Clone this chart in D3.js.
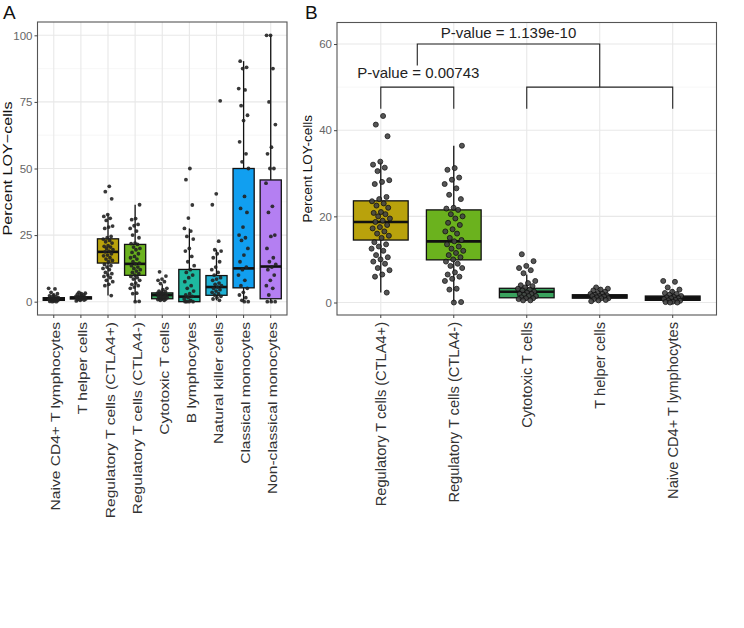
<!DOCTYPE html>
<html><head><meta charset="utf-8">
<script src="https://cdn.jsdelivr.net/npm/d3@7"></script>
<style>body{margin:0;background:#fff}svg{display:block;font-family:"Liberation Sans",Arial,sans-serif}</style>
</head><body><svg id="c" width="744" height="628"></svg>
<script>
// ---------- DATA ----------
const catsA = ["Naive CD4+ T lymphocytes","T helper cells","Regulatory T cells (CTLA4+)","Regulatory T cells (CTLA4-)","Cytotoxic T cells","B lymphocytes","Natural killer cells","Classical monocytes","Non-classical monocytes"];
const catsB = ["Regulatory T cells (CTLA4+)","Regulatory T cells (CTLA4-)","Cytotoxic T cells","T helper cells","Naive CD4+ T lymphocytes"];
const catColors = ["#1a1a1a","#1a1a1a","#b9a20c","#6bb21e","#3aa35e","#1db9a0","#1fb0d4","#119ff0","#b47ff2"];

const naiveVals = [5,4.8,3.5,3,2.5,2.2,2,1.8,1.5,1.3,1.2,1,1,0.8,0.6,0.5,0.4,0.2,0.1,0,0];
const helperVals = [3.5,3.2,3,2.8,2.5,2.2,2,2,1.8,1.7,1.5,1.5,1.4,1.2,1,1,0.8,0.6,0.5,0.3];
const tregPosVals = [43.3,41.3,38.6,32.7,32,31.3,30.5,28.4,28,27.5,24.5,24,23.5,23,22.5,22,21,20.8,20.5,20,19.5,19,18.7,18,17.5,17.2,16.5,16,15.5,15,14,13.5,13,12.5,12,11,10.5,10,9.5,9,8,7.5,6.5,6,2.3];
const tregNegVals = [36.4,31.2,30.8,29,28.5,27.5,26.5,25,24,22,21.8,21.5,20.5,20,19.5,18.5,18,17,16.5,16,15,14.5,14.2,13.5,13,12.5,12,11.5,11,10.5,10,9.5,9,8.5,8,7,6.5,6,5.5,5,3.2,3,0.1,0];
const cytoVals = [11.2,9.6,8.5,8,7.5,6.8,5,4.5,4,3.8,3.5,3.2,3,2.8,2.5,2.3,2,2,1.8,1.5,1.5,1.2,1,1,0.8,0.5,0.5];
const bLymphVals = [50,45.8,36.3,31.4,27.5,26.5,24.5,23.5,20,19,17,15,13.5,12,11,10,9,7.5,6,5,4,3,2.5,2,1.5,1,0.5,0,0,0,0];
const nkVals = [75.4,40.5,36.4,22.7,19.5,19,18,16.5,15,13,12,11,10,9,8.5,8,7,6.5,6,5.5,5,4.5,4,3.5,3,2.5,2,1.5,1,0.5];
const classicalVals = [90.3,88,87.5,80,79.5,73.6,70,68,60,55.5,52.5,50,39.5,35,33.5,28,25,24,23,20,17.5,15,13,12,10,8,6,5,3.5,2.5,1.5,0.5,0,0];
const nonClassicalVals = [100,100,87.5,75,66.5,58,55.5,50,50,44.5,35.8,33.5,25,24.5,20,16.5,15,14,13,12,10,8,6,5,2.5,0,0,0];
const allVals = [naiveVals,helperVals,tregPosVals,tregNegVals,cytoVals,bLymphVals,nkVals,classicalVals,nonClassicalVals];

// box statistics, in catsA order
const boxLo  = [0,   0.3, 2.3, 0,    0.5, 0,    0.5, 0,    0];
const boxQ1  = [0.5, 1.0, 14.5, 9.9, 1.1, 0,    2.4, 5.2,  1.1];
const boxMed = [1.0, 1.5, 18.7, 14.2, 2.5, 1.9, 5.5, 12.5, 13.2];
const boxQ3  = [1.5, 1.8, 23.6, 21.5, 3.3, 12.1, 9.8, 50,  45.7];
const boxHi  = [3,   3.5, 32.7, 36.4, 6.5, 27.5, 19.5, 90.3, 100];

const ticksA = [0,25,50,75,100];
const ticksB = [0,20,40,60];
const pLabels = ["P-value  = 0.00743","P-value  = 1.139e-10"];

// ---------- DRAW ----------
const svg = d3.select("#c");

function stretch(sel, f){
  sel.each(function(){
    const L = this.getComputedTextLength();
    d3.select(this).attr("textLength", L*f).attr("lengthAdjust","spacingAndGlyphs");
  });
}

function panel(cfg){
  const g = svg.append("g");
  const n = cfg.cats.length, step=(cfg.x1-cfg.x0)/(n-1+1.2);
  const xs = d3.scalePoint().domain(cfg.cats).range([cfg.x0+0.6*step, cfg.x1-0.6*step]);
  const cx = c => xs(c);
  const y = d3.scaleLinear().domain(cfg.dom).range([cfg.y1,cfg.y0]);
  const minor = cfg.ticks.slice(0,-1).map((t,i)=> (t+cfg.ticks[i+1])/2);
  g.selectAll(".mi").data(minor).join("line").attr("x1",cfg.x0).attr("x2",cfg.x1)
    .attr("y1",d=>y(d)).attr("y2",d=>y(d)).attr("stroke","#f2f2f2").attr("stroke-width",0.6);
  g.selectAll(".ma").data(cfg.ticks).join("line").attr("x1",cfg.x0).attr("x2",cfg.x1)
    .attr("y1",d=>y(d)).attr("y2",d=>y(d)).attr("stroke","#e8e8e8").attr("stroke-width",1.1);
  g.selectAll(".mv").data(cfg.cats).join("line").attr("x1",d=>cx(d)).attr("x2",d=>cx(d))
    .attr("y1",cfg.y0).attr("y2",cfg.y1).attr("stroke","#e8e8e8").attr("stroke-width",1.1);
  const bw = step*cfg.boxW;
  cfg.cats.forEach((c)=>{
    const k = catsA.indexOf(c);
    const X = cx(c);
    g.append("line").attr("x1",X).attr("x2",X).attr("y1",y(boxLo[k])).attr("y2",y(boxHi[k])).attr("stroke","#111").attr("stroke-width",1.3);
    g.append("rect").attr("x",X-bw/2).attr("width",bw).attr("y",y(boxQ3[k])).attr("height",Math.max(0,y(boxQ1[k])-y(boxQ3[k])))
      .attr("fill",catColors[k]).attr("stroke","#111").attr("stroke-width",1.3);
    g.append("line").attr("x1",X-bw/2).attr("x2",X+bw/2).attr("y1",y(boxMed[k])).attr("y2",y(boxMed[k])).attr("stroke","#111").attr("stroke-width",2.6);
  });
  cfg.cats.forEach((c)=>{
    const k = catsA.indexOf(c);
    const X = cx(c);
    g.selectAll(null).data(allVals[k]).join("circle")
      .attr("cx",(d,i)=> X + (((i*0.6180339+0.31*k)%1)-0.5)*2*cfg.jit*step)
      .attr("cy",d=>y(d)).attr("r",cfg.r)
      .attr("fill",cfg.ptFill).attr("stroke",cfg.ptStroke).attr("stroke-width",cfg.ptSW).attr("opacity",0.9);
  });
  g.append("rect").attr("x",cfg.x0).attr("y",cfg.y0).attr("width",cfg.x1-cfg.x0).attr("height",cfg.y1-cfg.y0)
    .attr("fill","none").attr("stroke","#555").attr("stroke-width",1.1);
  const ya = d3.axisLeft(y).tickValues(cfg.ticks).tickSize(3).tickPadding(2);
  const yg = g.append("g").attr("transform",`translate(${cfg.x0},0)`).call(ya);
  yg.select(".domain").remove();
  yg.selectAll("line").attr("stroke","#444");
  yg.selectAll("text").attr("font-size",11.5).attr("fill","#666").attr("font-family","Liberation Sans,Arial,sans-serif");
  g.selectAll(".xt").data(cfg.cats).join("line").attr("x1",d=>cx(d)).attr("x2",d=>cx(d))
    .attr("y1",cfg.y1).attr("y2",cfg.y1+3).attr("stroke","#444");
  const xl = g.selectAll(".xl").data(cfg.cats).join("text")
    .attr("transform",d=>`translate(${cx(d)+cfg.xfs*cfg.xoff},${cfg.y1+7}) rotate(-90)`)
    .attr("text-anchor","end").attr("font-size",cfg.xfs).attr("fill","#333").text(d=>d);
  stretch(xl, cfg.xstretch);
  const yt = g.append("text").attr("transform",`translate(${cfg.ylabX},${(cfg.y0+cfg.y1)/2}) rotate(-90)`)
    .attr("text-anchor","middle").attr("font-size",cfg.ylabSize).attr("fill","#111").text(cfg.ylab);
  stretch(yt, cfg.ystretch);
  g.append("text").attr("x",cfg.tagX).attr("y",19).attr("font-size",19).attr("fill","#111").text(cfg.tag);
  return {cx,y};
}

panel({cats:catsA,x0:37.5,x1:287,y0:22,y1:315,dom:[-5,105],ticks:ticksA,boxW:0.78,jit:0.19,r:1.9,
  xfs:13.2,xoff:0.5,xstretch:1.18,
  ptFill:"#222",ptStroke:"none",ptSW:0,ylab:"Percent LOY\u2212cells",ylabX:12,ylabSize:13,ystretch:1.24,tag:"A",tagX:3});
const pb = panel({cats:catsB,x0:337,x1:716.5,y0:22.5,y1:315,dom:[-2.9,65],ticks:ticksB,boxW:0.75,jit:0.13,r:2.5,
  xfs:14.2,xoff:0.39,xstretch:1.03,
  ptFill:"#444",ptStroke:"#111",ptSW:0.9,ylab:"Percent LOY-cells",ylabX:312,ylabSize:13.5,ystretch:1,tag:"B",tagX:305});

const bg = svg.append("g").attr("stroke","#222").attr("stroke-width",1.1).attr("fill","none");
const {cx,y} = pb;
const b1 = [catsB[0],catsB[1]], b2=[catsB[2],catsB[4]];
[b1,b2].forEach(b=>{
  bg.append("path").attr("d",`M${cx(b[0])},${y(45)}V${y(50)}H${cx(b[1])}V${y(45)}`);
});
const mid1 = (cx(b1[0])+cx(b1[1]))/2, mid2=cx(catsB[3]);
bg.append("path").attr("d",`M${mid1},${y(55)}V${y(60)}H${mid2}V${y(50)}`);
svg.append("text").attr("x",mid1+1).attr("y",y(50)-9).attr("text-anchor","middle").attr("font-size",15).attr("fill","#222").text(pLabels[0]);
svg.append("text").attr("x",(mid1+mid2)/2).attr("y",y(60)-6).attr("text-anchor","middle").attr("font-size",15).attr("fill","#222").text(pLabels[1]);
</script></body></html>
